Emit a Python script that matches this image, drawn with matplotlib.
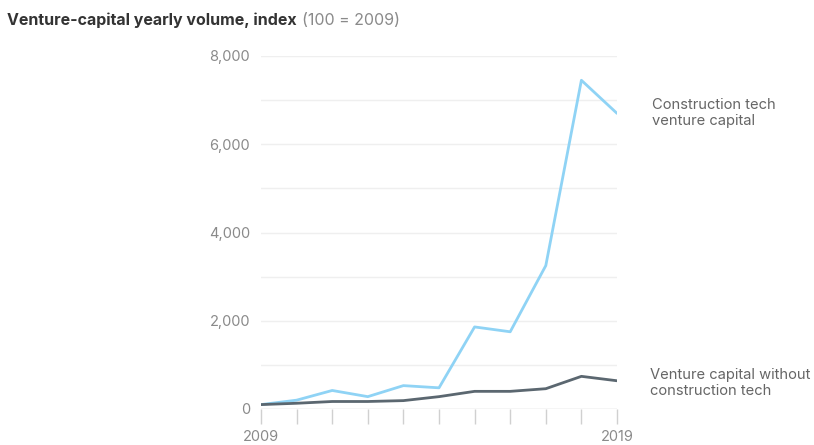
import matplotlib
matplotlib.use("Agg")
import matplotlib.pyplot as plt

years = [2009, 2010, 2011, 2012, 2013, 2014, 2015, 2016, 2017, 2018, 2019]
construction_tech = [100, 200, 420, 280, 530, 480, 1860, 1750, 3250, 7450, 6700]
vc_without_ct = [100, 130, 170, 170, 190, 280, 400, 400, 460, 740, 640]
y_ticks = [0, 2000, 4000, 6000, 8000]
y_tick_labels = ["0", "2,000", "4,000", "6,000", "8,000"]
x_tick_labels = {2009: "2009", 2019: "2019"}

plt.rcParams["font.family"] = ["Inter", "DejaVu Sans"]

fig = plt.figure(figsize=(8.14, 4.45), dpi=100)
ax = fig.add_axes([261 / 814, 1 - 409 / 445, (617 - 261) / 814, (409 - 56) / 445])

# light horizontal gridlines every 1,000
for v in range(1000, 8001, 1000):
    ax.axhline(v, color="#efefef", lw=1, zorder=0)
ax.axhline(0, color="#d0d0d0", lw=1, zorder=1)

ax.plot(years, vc_without_ct, color="#5b6770", lw=2, zorder=3, solid_capstyle="round")
ax.plot(years, construction_tech, color="#8fd3f5", lw=2, zorder=2, solid_capstyle="round")

ax.set_xlim(2009, 2019)
ax.set_ylim(0, 8000)
for s in ax.spines.values():
    s.set_visible(False)

ax.set_yticks(y_ticks)
ax.set_yticklabels(y_tick_labels)
ax.tick_params(axis="y", length=0, pad=8, labelsize=10.5, labelcolor="#8a8a8a")

ax.set_xticks(years)
ax.set_xticklabels([x_tick_labels.get(y, "") for y in years])
ax.tick_params(axis="x", length=11, width=1, color="#d0d0d0", pad=4,
               labelsize=10.5, labelcolor="#8a8a8a")

title = fig.text(0.008, 0.955, "Venture-capital yearly volume, index", fontsize=11.5,
                 fontweight="bold", color="#333333", va="center", ha="left")
ax.annotate("(100 = 2009)", xy=(1, 0.5), xycoords=title, xytext=(4, 0),
            textcoords="offset points", fontsize=11.5, color="#8a8a8a",
            va="center", ha="left", annotation_clip=False)

fig.text(652 / 814, 1 - 113 / 445, "Construction tech\nventure capital", fontsize=10.6,
         color="#666666", va="center", ha="left", linespacing=1.25)
fig.text(650 / 814, 1 - 383 / 445, "Venture capital without\nconstruction tech", fontsize=10.6,
         color="#666666", va="center", ha="left", linespacing=1.25)

fig.savefig("out.png", dpi=100, facecolor="white")
